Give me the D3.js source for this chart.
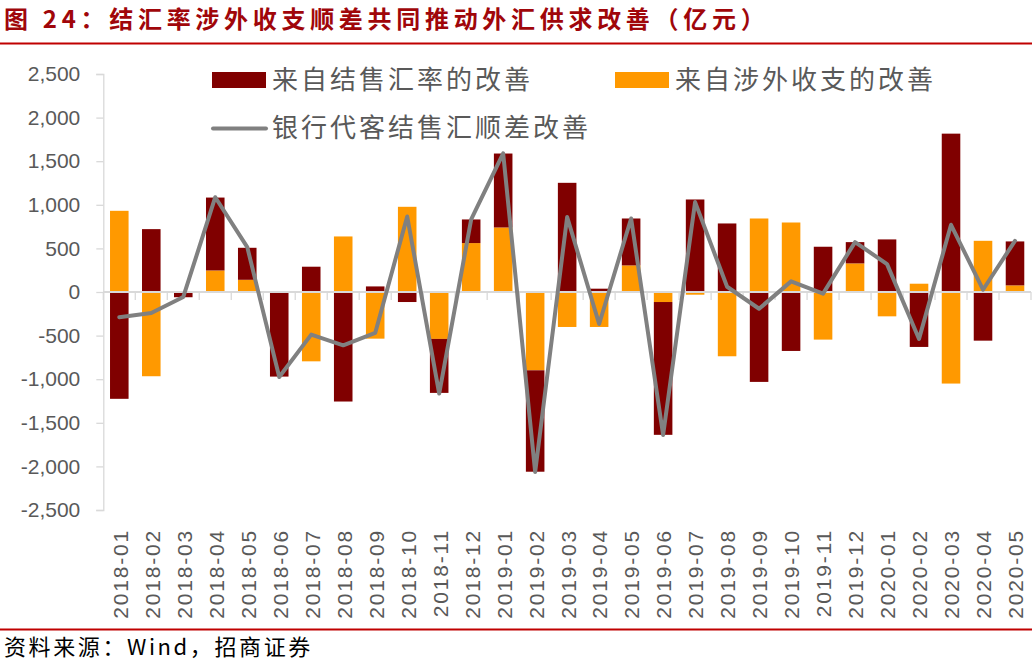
<!DOCTYPE html>
<html>
<head>
<meta charset="utf-8">
<script src="https://cdn.jsdelivr.net/npm/d3@7"></script>
<style>
  html, body { margin: 0; padding: 0; background: #fff; }
  svg { display: block; }
</style>
</head>
<body>
<svg id="chart" width="1032" height="662"></svg>
<script>
// ---- data ----
const categories = ["2018-01","2018-02","2018-03","2018-04","2018-05","2018-06","2018-07","2018-08","2018-09","2018-10","2018-11","2018-12",
  "2019-01","2019-02","2019-03","2019-04","2019-05","2019-06","2019-07","2019-08","2019-09","2019-10","2019-11","2019-12",
  "2020-01","2020-02","2020-03","2020-04","2020-05"];
// 来自结售汇率的改善
const rateImprove = [-1225, 721, -60, 836, 367, -970, 290, -1256, 64, -115, -619, 271,
  848, -1163, 1252, 38, 538, -1523, 1061, 786, -1031, -676, 519, 244,
  603, -630, 1816, -558, 504];
// 来自涉外收支的改善
const flowImprove = [931, -966, 0, 247, 140, 0, -795, 637, -535, 977, -538, 561,
  740, -898, -401, -401, 305, -115, -31, -737, 843, 797, -546, 328,
  -279, 95, -1050, 587, 76];
// 银行代客结售汇顺差改善
const netImprove = [-290, -241, -57, 1087, 515, -975, -489, -611, -470, 866, -1165, 832,
  1590, -2065, 860, -367, 843, -1640, 1031, 60, -192, 122, -19, 572,
  320, -538, 771, 26, 587];
const yTicks = [-2500, -2000, -1500, -1000, -500, 0, 500, 1000, 1500, 2000, 2500];
const seriesNames = ["来自结售汇率的改善", "来自涉外收支的改善", "银行代客结售汇顺差改善"];

// ---- chart ----
const svg = d3.select("#chart");
const C_RATE = "#800000", C_FLOW = "#FF9900", C_LINE = "#808080";
const TXT = "#595959";

// title
svg.append("text")
  .attr("x", 4).attr("y", 28)
  .attr("fill", "#A0060A")
  .attr("font-family", "'Noto Sans CJK SC', sans-serif")
  .attr("font-weight", "bold")
  .attr("font-size", 24)
  .attr("letter-spacing", 4.7)
  .text("图 24：结汇率涉外收支顺差共同推动外汇供求改善（亿元）");
svg.append("line").attr("x1", 0).attr("x2", 1032).attr("y1", 43.5).attr("y2", 43.5)
  .attr("stroke", "#C00000").attr("stroke-width", 2);

const x = d3.scaleBand().domain(categories).range([103.3, 1031]).paddingInner(0.42).paddingOuter(0.21);
const y = d3.scaleLinear().domain([-2500, 2500]).range([510, 74]);

// y axis
const fmt = d3.format(",");
const yAxis = svg.append("g").attr("transform", "translate(103.3,0)")
  .call(d3.axisLeft(y).tickValues(yTicks).tickFormat(d => fmt(d).replace("\u2212", "-")).tickSize(7).tickPadding(16));
yAxis.select(".domain").attr("stroke", "#D9D9D9").attr("stroke-width", 1.3);
yAxis.selectAll(".tick line").attr("stroke", "#D9D9D9").attr("stroke-width", 1.3);
yAxis.selectAll(".tick text").attr("fill", TXT)
  .attr("font-family", "'Liberation Sans', Arial, sans-serif").attr("font-size", 21);

// stacked bars (orange stacked first, dark red outside)
const rows = categories.map((c, i) => ({ cat: c, flow: flowImprove[i], rate: rateImprove[i] }));
const stack = d3.stack().keys(["flow", "rate"]).offset(d3.stackOffsetDiverging);
const stacked = stack(rows);
const colors = { flow: C_FLOW, rate: C_RATE };
svg.append("g").selectAll("g").data(stacked).join("g")
  .attr("fill", d => colors[d.key])
  .selectAll("rect").data(d => d).join("rect")
  .attr("x", d => x(d.data.cat))
  .attr("width", x.bandwidth())
  .attr("y", d => y(Math.max(d[0], d[1])))
  .attr("height", d => Math.abs(y(d[0]) - y(d[1])));

// x axis line at zero
const xg = svg.append("g");
xg.append("line").attr("x1", 103.3).attr("x2", 1031).attr("y1", y(0)).attr("y2", y(0))
  .attr("stroke", "#D9D9D9").attr("stroke-width", 2);
const bounds = d3.range(categories.length + 1).map(i => 103.3 + i * x.step());
xg.selectAll("line.tk").data(bounds).join("line").attr("class", "tk")
  .attr("x1", d => d).attr("x2", d => d).attr("y1", y(0)).attr("y2", y(0) + 8)
  .attr("stroke", "#D9D9D9").attr("stroke-width", 1.3);

// x labels
svg.append("g").selectAll("text").data(categories).join("text")
  .attr("transform", d => `translate(${x(d) + x.bandwidth() / 2 + 1},529) rotate(-90)`)
  .attr("text-anchor", "end").attr("dy", "0.35em")
  .attr("fill", TXT)
  .attr("font-family", "'Liberation Sans', Arial, sans-serif").attr("font-size", 21)
  .attr("letter-spacing", 1.8)
  .text(d => d);

// line
const line = d3.line().x((d, i) => x(categories[i]) + x.bandwidth() / 2).y(d => y(d));
svg.append("path").datum(netImprove)
  .attr("d", line).attr("fill", "none")
  .attr("stroke", C_LINE).attr("stroke-width", 4).attr("stroke-linejoin", "round").attr("stroke-linecap", "round");

// legend
const lg = svg.append("g").attr("font-family", "'Noto Sans CJK SC', sans-serif")
  .attr("font-size", 26).attr("fill", TXT);
lg.append("rect").attr("x", 212).attr("y", 72).attr("width", 54).attr("height", 16).attr("fill", C_RATE);
lg.append("text").attr("x", 272).attr("y", 89).attr("letter-spacing", 3).text(seriesNames[0]);
lg.append("rect").attr("x", 615).attr("y", 72).attr("width", 54).attr("height", 16).attr("fill", C_FLOW);
lg.append("text").attr("x", 675).attr("y", 89).attr("letter-spacing", 3).text(seriesNames[1]);
lg.append("line").attr("x1", 213).attr("x2", 266).attr("y1", 128.5).attr("y2", 128.5)
  .attr("stroke", C_LINE).attr("stroke-width", 4).attr("stroke-linecap", "round");
lg.append("text").attr("x", 272).attr("y", 137).attr("letter-spacing", 3).text(seriesNames[2]);

// footer
svg.append("line").attr("x1", 0).attr("x2", 1032).attr("y1", 629.5).attr("y2", 629.5)
  .attr("stroke", "#C00000").attr("stroke-width", 2);
svg.append("text").attr("x", 4).attr("y", 655)
  .attr("font-family", "'Noto Sans CJK SC', sans-serif").attr("font-size", 22)
  .attr("letter-spacing", 2.6)
  .attr("fill", "#000").text("资料来源：Wind，招商证券");
</script>
</body>
</html>
